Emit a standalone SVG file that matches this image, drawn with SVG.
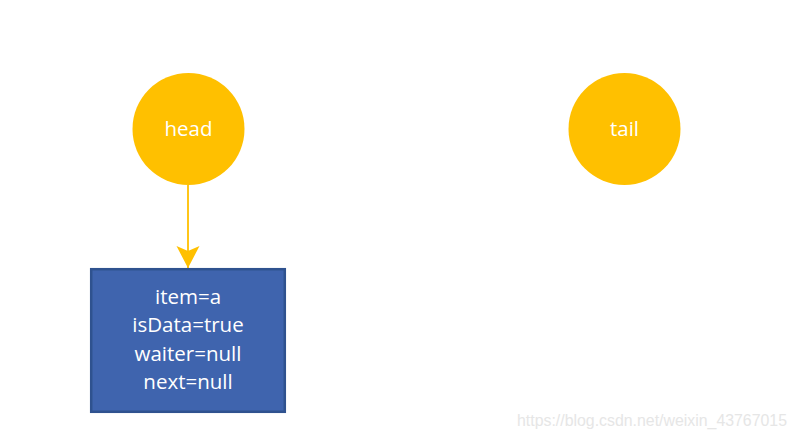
<svg xmlns="http://www.w3.org/2000/svg" width="798" height="440" viewBox="0 0 798 440">
<defs>
<style>
.ptr{fill:#FFC000;}
.lbl{font-family:"Open Sans","Noto Sans","Liberation Sans",sans-serif;font-size:20.5px;fill:#FFFFFF;text-anchor:middle;}
.conn{stroke:#FFC000;stroke-width:1.8;fill:none;}
</style>
<marker id="arr" markerWidth="24" markerHeight="24" refX="22" refY="11.5" orient="auto" markerUnits="userSpaceOnUse">
<path d="M0,0 L22,11.5 L0,23 L5,11.5 Z" fill="#FFC000"/>
</marker>
</defs>
<rect width="798" height="440" fill="#FFFFFF"/>
<g id="connectors">
<line class="conn" x1="188" y1="185" x2="188" y2="268" marker-end="url(#arr)"/>
</g>
<g id="head">
<circle class="ptr" cx="188.5" cy="129" r="56"/>
<text class="lbl" x="188.5" y="136">head</text>
</g>
<g id="tail">
<circle class="ptr" cx="624.5" cy="129" r="56"/>
<text class="lbl" x="624.5" y="136">tail</text>
</g>
<g id="node">
<rect x="91.2" y="269.2" width="193.6" height="142.6" fill="#3F64AE" stroke="#2F528F" stroke-width="2.5"/>
<text class="lbl" x="188" y="303.5">item=a</text>
<text class="lbl" x="188" y="332">isData=true</text>
<text class="lbl" x="188" y="360.5">waiter=null</text>
<text class="lbl" x="188" y="389">next=null</text>
</g>
<text x="517" y="426" font-family="Liberation Sans, Arial, sans-serif" font-size="16" fill="#E6E6E6" textLength="270" lengthAdjust="spacingAndGlyphs">https://blog.csdn.net/weixin_43767015</text>
</svg>
